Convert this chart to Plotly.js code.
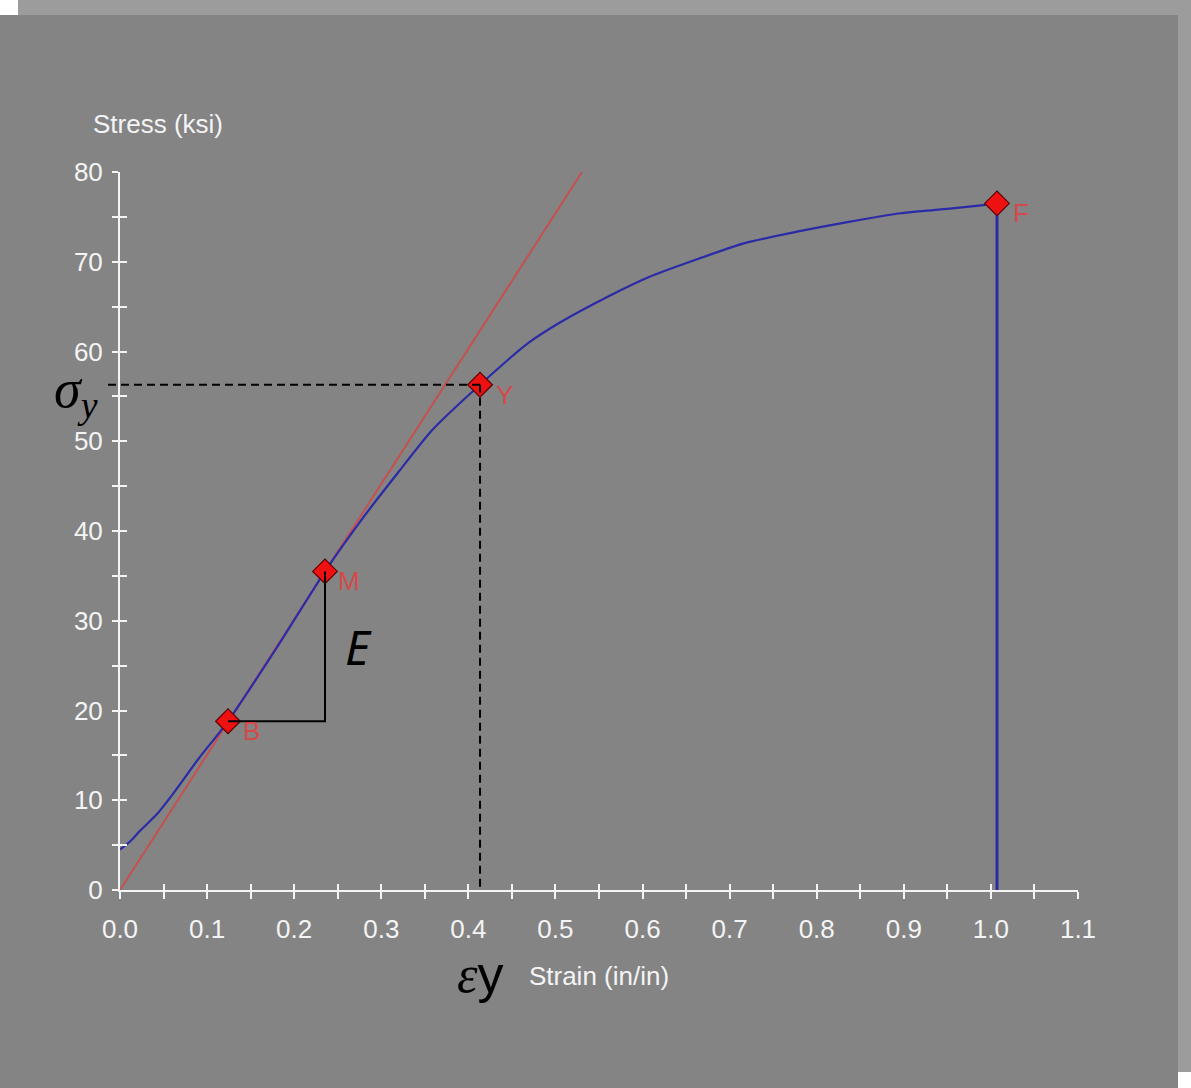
<!DOCTYPE html>
<html>
<head>
<meta charset="utf-8">
<script src="https://cdn.plot.ly/plotly-3.0.1.min.js"></script>
<style>
  html, body { margin: 0; padding: 0; background: #ffffff; }
  #chart { width: 1191px; height: 1088px; }
</style>
</head>
<body>
<div id="chart"></div>
<script>
// ---- data ----
var curveStrain = [0.0, 0.0115, 0.023, 0.042, 0.06, 0.09, 0.124, 0.18, 0.2354, 0.28, 0.32, 0.358, 0.4134,
                   0.469, 0.5047, 0.56, 0.6074, 0.6545, 0.7182, 0.7773, 0.8368, 0.896, 0.9553, 0.991, 1.007];
var curveStress = [4.5, 5.4, 6.6, 8.4, 10.6, 14.6, 18.8, 27.0, 35.5, 41.6, 46.6, 51.2, 56.3,
                   60.95, 63.2, 66.1, 68.3, 70.0, 72.1, 73.35, 74.45, 75.4, 75.95, 76.3, 76.5];
var fractureStrain = [1.007, 1.007];
var fractureStress = [76.5, 0];
var modulusStrain = [0, 0.5305];
var modulusStress = [0, 80];
var pointNames = ['B', 'M', 'Y', 'F'];
var pointStrain = [0.124, 0.2354, 0.4134, 1.007];
var pointStress = [18.8, 35.5, 56.3, 76.5];
var xTickLabels = ['0.0','0.1','0.2','0.3','0.4','0.5','0.6','0.7','0.8','0.9','1.0','1.1'];
var yTickLabels = ['0','10','20','30','40','50','60','70','80'];

var xRange = [0, 1.1];
var yRange = [0, 80];

var iB = pointNames.indexOf('B'), iM = pointNames.indexOf('M'), iY = pointNames.indexOf('Y');
var xTickVals = xTickLabels.map(Number);
var yTickVals = yTickLabels.map(Number);

var white = '#f4f4f4';
var tickFont = { family: 'Liberation Sans, Arial, sans-serif', size: 26, color: white };

var traces = [
  { x: modulusStrain, y: modulusStress, mode: 'lines', line: { color: '#c45050', width: 2 }, hoverinfo: 'skip' },
  { x: curveStrain, y: curveStress, mode: 'lines', line: { color: '#2b2ba8', width: 2.2, shape: 'spline', smoothing: 0.6 }, hoverinfo: 'skip' },
  { x: fractureStrain, y: fractureStress, mode: 'lines', line: { color: '#2b2ba8', width: 3 }, hoverinfo: 'skip' },
  { x: pointStrain, y: pointStress, mode: 'markers',
    marker: { symbol: 'diamond', size: 19, color: '#ee1111', line: { color: '#5a0000', width: 1.2 } },
    cliponaxis: false, hoverinfo: 'skip' },
  { x: [pointStrain[iY], pointStrain[iY]], y: [pointStress[iY], 0], mode: 'lines',
    line: { color: '#000000', width: 2, dash: '8px,5px' }, hoverinfo: 'skip' },
  { x: [pointStrain[iB], pointStrain[iM], pointStrain[iM]], y: [pointStress[iB], pointStress[iB], pointStress[iM]],
    mode: 'lines', line: { color: '#000000', width: 2 }, hoverinfo: 'skip' },
  { x: [], y: [], xaxis: 'x2', yaxis: 'y2', mode: 'lines', hoverinfo: 'skip' }
];

// pixel frame helpers (paper coords)
var W = 1191, H = 1088, mL = 120, mR = 113, mT = 172, mB = 198;
var pw = W - mL - mR, ph = H - mT - mB;
function px(p) { return (p - mL) / pw; }
function py(p) { return (H - mB - p) / ph; }

var shapes = [
  { type: 'rect', xref: 'paper', yref: 'paper', x0: px(-2), x1: px(18), y0: py(15), y1: py(-2), fillcolor: '#ffffff', line: { width: 0 }, layer: 'below' },
  { type: 'rect', xref: 'paper', yref: 'paper', x0: px(18), x1: px(W + 2), y0: py(15), y1: py(-2), fillcolor: '#9c9c9c', line: { width: 0 }, layer: 'below' },
  { type: 'rect', xref: 'paper', yref: 'paper', x0: px(1178), x1: px(W + 2), y0: py(1072), y1: py(15), fillcolor: '#9c9c9c', line: { width: 0 }, layer: 'below' },
  { type: 'rect', xref: 'paper', yref: 'paper', x0: px(1178), x1: px(W + 2), y0: py(H + 2), y1: py(1072), fillcolor: '#ffffff', line: { width: 0 }, layer: 'below' },
  { type: 'line', xref: 'paper', yref: 'y', x0: px(108), x1: pointStrain[iY] / xRange[1],
    y0: pointStress[iY], y1: pointStress[iY], line: { color: '#000000', width: 2, dash: '8px,5px' }, layer: 'above' }
];

var annotations = [
  { xref: 'paper', yref: 'paper', x: px(158), y: py(124), text: 'Stress (ksi)', showarrow: false,
    xanchor: 'center', yanchor: 'middle', font: tickFont },
  { xref: 'paper', yref: 'y', x: px(76), y: pointStress[iY], yshift: -8, text: '<i>σ<sub>y</sub></i>', showarrow: false,
    xanchor: 'center', yanchor: 'middle', font: { family: 'Liberation Serif, serif', size: 54, color: '#000000' } },
  { xref: 'x', yref: 'paper', x: pointStrain[iY], y: py(974), text: '<i>ε</i><span style="font-family:Liberation Sans">y</span>', showarrow: false,
    xanchor: 'center', yanchor: 'middle', font: { family: 'Liberation Serif, serif', size: 52, color: '#000000' } },
  { xref: 'x', yref: 'y', x: pointStrain[iM], xshift: 33, y: (pointStress[iB] + pointStress[iM]) / 2, yshift: 0,
    text: '<i>E</i>', showarrow: false, xanchor: 'center', yanchor: 'middle',
    font: { family: 'Noto Sans, sans-serif', size: 48, color: '#000000' } }
];
for (var k = 0; k < pointNames.length; k++) {
  annotations.push({ xref: 'x', yref: 'y', x: pointStrain[k], y: pointStress[k], xshift: 24, yshift: -10,
    text: pointNames[k], showarrow: false, xanchor: 'center', yanchor: 'middle',
    font: { family: 'Liberation Sans, Arial, sans-serif', size: 26, color: '#d44a4a' } });
}

var layout = {
  width: W, height: H,
  margin: { l: mL, r: mR, t: mT, b: mB, pad: 0 },
  paper_bgcolor: '#848484', plot_bgcolor: '#848484',
  showlegend: false,
  font: tickFont,
  xaxis: {
    range: xRange, tickvals: xTickVals, ticktext: xTickLabels, ticks: 'outside', ticklen: 7, tickwidth: 2,
    tickcolor: white, showline: true, linecolor: white, linewidth: 2, showgrid: false, zeroline: false,
    tickfont: tickFont, ticklabelstandoff: 8,
    minor: { dtick: 0.05, tick0: 0, ticks: 'outside', ticklen: 7, tickwidth: 2, tickcolor: white, showgrid: false },
    title: { text: 'Strain (in/in)', font: tickFont, standoff: 24 }, fixedrange: true
  },
  yaxis: {
    range: yRange, tickvals: yTickVals, ticktext: yTickLabels, ticks: 'outside', ticklen: 6, tickwidth: 2,
    tickcolor: white, showline: true, linecolor: white, linewidth: 2, showgrid: false, zeroline: false,
    tickfont: tickFont, ticklabelstandoff: 4,
    minor: { dtick: 5, tick0: 0, ticks: 'outside', ticklen: 6, tickwidth: 2, tickcolor: white, showgrid: false },
    fixedrange: true
  },
  xaxis2: {
    overlaying: 'x', anchor: 'y2', range: xRange, dtick: 0.05, tick0: 0, ticks: 'inside', ticklen: 6, tickwidth: 2,
    tickcolor: white, showticklabels: false, showline: false, showgrid: false, zeroline: false, fixedrange: true
  },
  yaxis2: {
    overlaying: 'y', anchor: 'x2', side: 'left', range: yRange, dtick: 5, tick0: 0, ticks: 'inside', ticklen: 7, tickwidth: 2,
    tickcolor: white, showticklabels: false, showline: false, showgrid: false, zeroline: false, fixedrange: true
  },
  shapes: shapes,
  annotations: annotations
};

Plotly.newPlot('chart', traces, layout, { displayModeBar: false, staticPlot: true });
</script>
</body>
</html>
